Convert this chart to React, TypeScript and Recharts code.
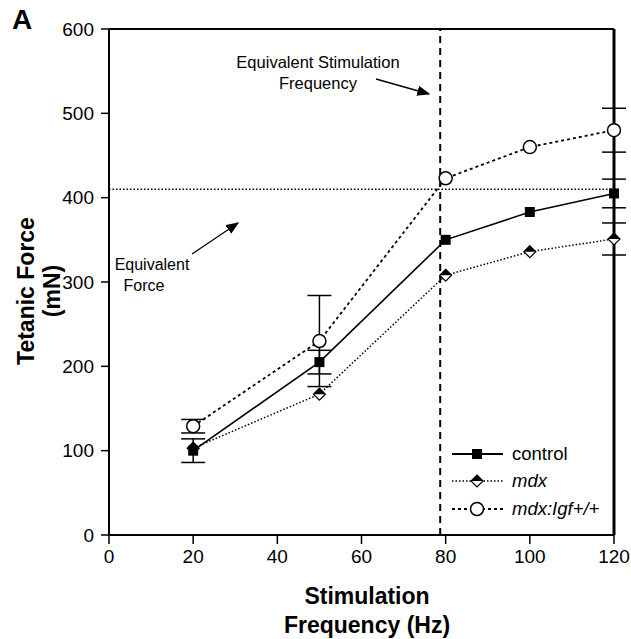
import React from "react";
import {
  ComposedChart,
  Line,
  XAxis,
  YAxis,
  ErrorBar,
  ReferenceLine,
  Legend,
} from "recharts";

const freq = [20, 50, 80, 100, 120];
const control = [100, 205, 350, 383, 405];
const controlErr = [14, 14, 0, 0, 17];
const mdx = [103, 167, 308, 336, 351];
const mdxErr = [0, 0, 0, 0, 19];
const igf = [129, 230, 423, 460, 480];
const igfErr = [8, 54, 0, 0, 26];

const xTicks = [0, 20, 40, 60, 80, 100, 120];
const yTicks = [0, 100, 200, 300, 400, 500, 600];
const equivFreq = 78.7;
const equivForce = 410;

const rows = freq.map((f, i) => ({
  freq: f,
  control: control[i],
  controlErr: controlErr[i],
  mdx: mdx[i],
  mdxErr: mdxErr[i],
  igf: igf[i],
  igfErr: igfErr[i],
}));

const FONT = '"Liberation Sans", Arial, Helvetica, sans-serif';

const Square = (props: any) => {
  const { cx, cy } = props;
  if (cx == null || cy == null) return null;
  return <rect x={cx - 5} y={cy - 5} width={10} height={10} fill="#000" />;
};

const Diamond = (props: any) => {
  const { cx, cy } = props;
  if (cx == null || cy == null) return null;
  return (
    <g>
      <polygon
        points={`${cx},${cy - 6} ${cx + 6},${cy} ${cx},${cy + 6} ${cx - 6},${cy}`}
        fill="#fff"
        stroke="#000"
        strokeWidth={1.2}
      />
      <polygon
        points={`${cx},${cy - 6} ${cx + 6},${cy} ${cx - 6},${cy}`}
        fill="#000"
      />
    </g>
  );
};

const Circle = (props: any) => {
  const { cx, cy } = props;
  if (cx == null || cy == null) return null;
  return <circle cx={cx} cy={cy} r={6.5} fill="#fff" stroke="#000" strokeWidth={1.5} />;
};

const legendItems = [
  { name: "control", italic: false, dash: undefined, w: 1.8, mark: "square" },
  { name: "mdx", italic: true, dash: "1.5 2", w: 1.5, mark: "diamond" },
  { name: "mdx:Igf+/+", italic: true, dash: "3 3", w: 1.8, mark: "circle" },
];

const LegendBox = () => (
  <div style={{ fontFamily: FONT, fontSize: 18.5, color: "#000" }}>
    {legendItems.map((it) => (
      <div key={it.name} style={{ display: "flex", alignItems: "center", height: 27.5 }}>
        <svg width={58} height={20}>
          <line x1={2} y1={10} x2={53} y2={10} stroke="#000" strokeWidth={it.w} strokeDasharray={it.dash} />
          {it.mark === "square" && <Square cx={27} cy={10} />}
          {it.mark === "diamond" && <Diamond cx={27} cy={10} />}
          {it.mark === "circle" && <Circle cx={27} cy={10} />}
        </svg>
        <span style={{ fontStyle: it.italic ? "italic" : "normal", marginLeft: 4 }}>{it.name}</span>
      </div>
    ))}
  </div>
);

export default function App() {
  return (
    <div style={{ position: "absolute", left: 0, top: 0, width: 631, height: 639, background: "#fff" }}>
      <ComposedChart
        width={631}
        height={639}
        data={rows}
        margin={{ top: 29, right: 17, bottom: 0, left: 0 }}
      >
        <XAxis
          dataKey="freq"
          type="number"
          domain={[0, 120]}
          ticks={xTicks}
          height={104}
          tickSize={9}
          tickMargin={6}
          axisLine={{ stroke: "#000", strokeWidth: 2 }}
          tickLine={{ stroke: "#000", strokeWidth: 1.5 }}
          tick={{ fill: "#000", fontSize: 19, fontFamily: FONT }}
        />
        <YAxis
          type="number"
          domain={[0, 600]}
          ticks={yTicks}
          width={109}
          tickSize={8}
          tickMargin={7}
          axisLine={{ stroke: "#000", strokeWidth: 2 }}
          tickLine={{ stroke: "#000", strokeWidth: 1.5 }}
          tick={{ fill: "#000", fontSize: 19, fontFamily: FONT }}
        />
        <ReferenceLine y={600} stroke="#000" strokeWidth={2} />
        <ReferenceLine x={120} stroke="#000" strokeWidth={3} />
        <ReferenceLine y={equivForce} stroke="#000" strokeWidth={1.3} strokeDasharray="1.5 2" />
        <ReferenceLine x={equivFreq} stroke="#000" strokeWidth={2} strokeDasharray="7 5" />
        <Legend
          layout="vertical"
          align="center"
          verticalAlign="middle"
          content={() => <LegendBox />}
          wrapperStyle={{ left: 450, top: 440, width: 175 }}
        />
        <Line
          dataKey="mdx"
          stroke="#000"
          strokeWidth={1.5}
          strokeDasharray="1.5 2"
          dot={<Diamond />}
          isAnimationActive={false}
        >
          <ErrorBar dataKey="mdxErr" width={12} stroke="#000" strokeWidth={1.5} direction="y" />
        </Line>
        <Line
          dataKey="control"
          stroke="#000"
          strokeWidth={1.6}
          dot={<Square />}
          isAnimationActive={false}
        >
          <ErrorBar dataKey="controlErr" width={12} stroke="#000" strokeWidth={1.5} direction="y" />
        </Line>
        <Line
          dataKey="igf"
          stroke="#000"
          strokeWidth={1.8}
          strokeDasharray="3 3"
          dot={<Circle />}
          isAnimationActive={false}
        >
          <ErrorBar dataKey="igfErr" width={12} stroke="#000" strokeWidth={1.5} direction="y" />
        </Line>
      </ComposedChart>
      <svg
        width={631}
        height={639}
        style={{ position: "absolute", left: 0, top: 0, pointerEvents: "none" }}
        fontFamily={FONT}
      >
        <defs>
          <marker id="arr" markerWidth={10} markerHeight={8} refX={9} refY={4} orient="auto">
            <path d="M0,0 L10,4 L0,8 z" fill="#000" />
          </marker>
        </defs>
        <text x={22} y={29} fontSize={28} fontWeight="bold" textAnchor="middle">A</text>
        <text x={318} y={68} fontSize={16.5} textAnchor="middle">Equivalent Stimulation</text>
        <text x={318} y={89} fontSize={16.5} textAnchor="middle">Frequency</text>
        <line x1={376} y1={79} x2={429} y2={94} stroke="#000" strokeWidth={1.3} markerEnd="url(#arr)" />
        <text x={152} y={270} fontSize={16} textAnchor="middle">Equivalent</text>
        <text x={144} y={291} fontSize={16} textAnchor="middle">Force</text>
        <line x1={192} y1={254} x2={238} y2={223} stroke="#000" strokeWidth={1.3} markerEnd="url(#arr)" />
        <g transform="translate(36,291) rotate(-90)" fontSize={23} fontWeight="bold">
          <text x={0} y={-2} textAnchor="middle">Tetanic Force</text>
          <text x={0} y={24} textAnchor="middle">(mN)</text>
        </g>
        <text x={367} y={604} fontSize={23} fontWeight="bold" textAnchor="middle">Stimulation</text>
        <text x={367} y={633} fontSize={23} fontWeight="bold" textAnchor="middle">Frequency (Hz)</text>
      </svg>
    </div>
  );
}
